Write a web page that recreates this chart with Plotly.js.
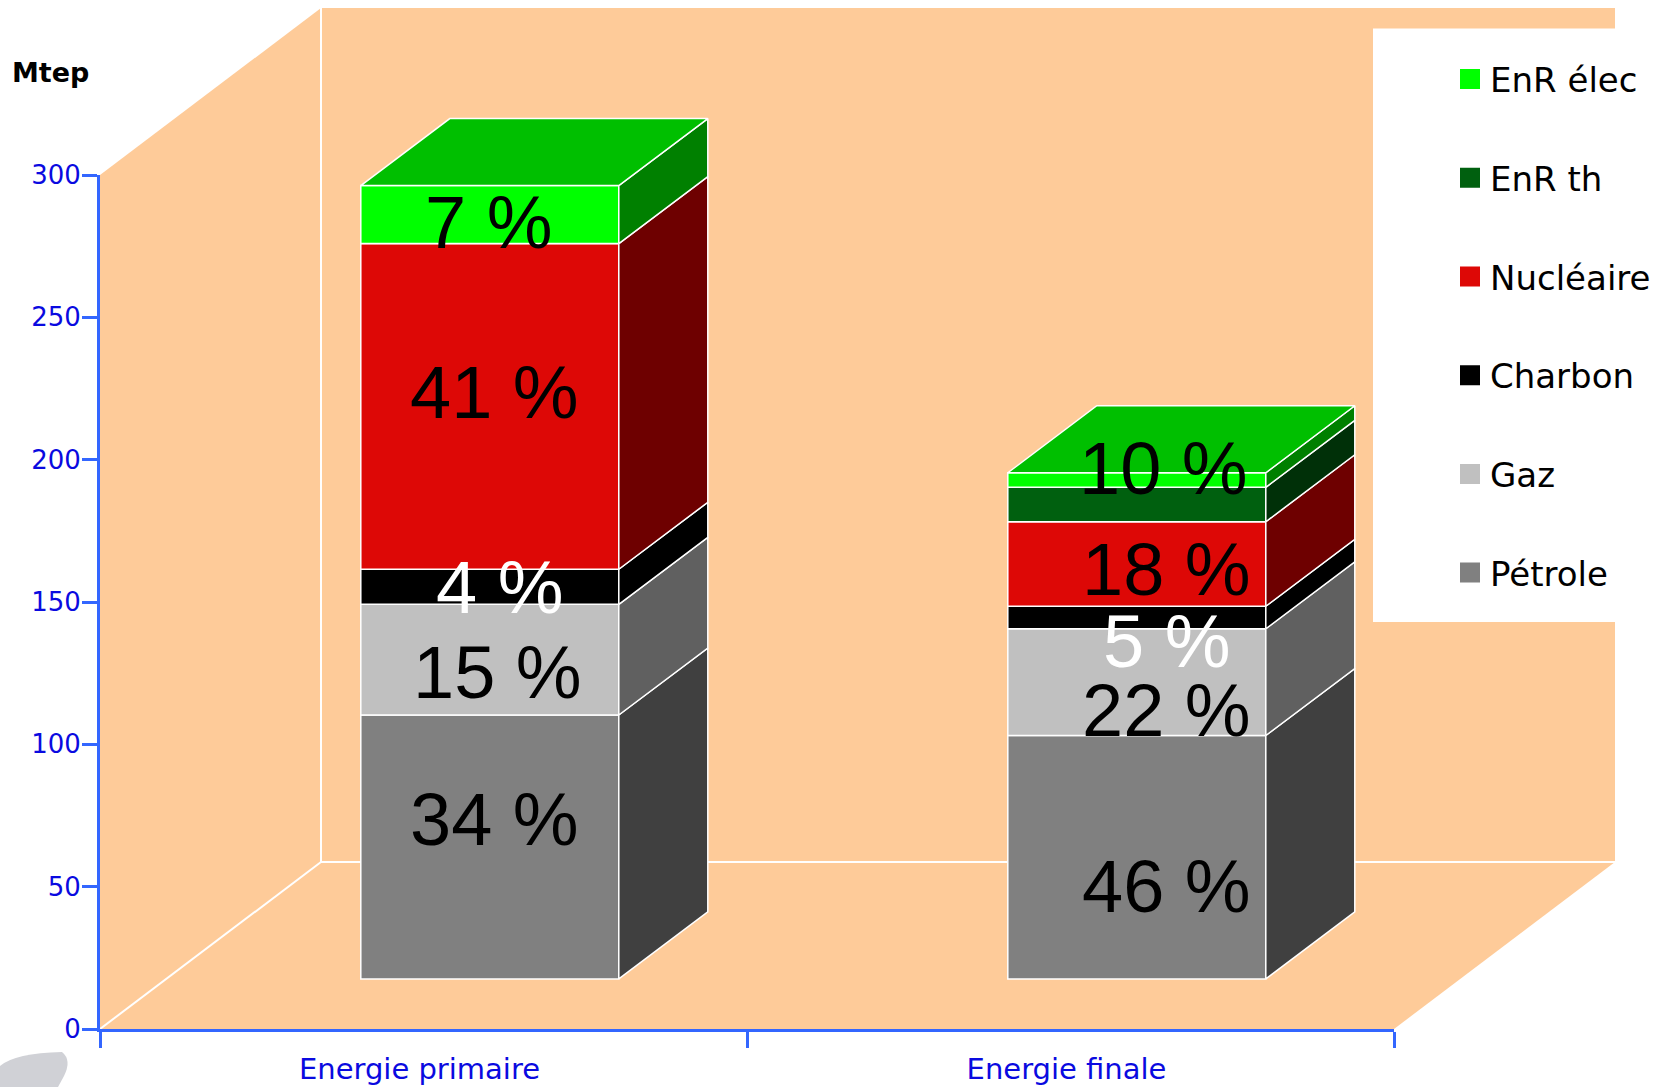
<!DOCTYPE html>
<html><head><meta charset="utf-8">
<script src="https://cdn.plot.ly/plotly-3.0.1.min.js"></script>
<style>html,body{margin:0;padding:0;background:#fff;} #chart{width:1659px;height:1087px;}</style>
</head><body><div id="chart"></div>
<script>
// ---------------- data ----------------
const categories = ['Energie primaire', 'Energie finale'];
const seriesNames = ['Pétrole', 'Gaz', 'Charbon', 'Nucléaire', 'EnR th', 'EnR élec'];
const petrole   = [92.7, 85.5];
const gaz       = [38.9, 37.5];
const charbon   = [12.3, 7.9];
const nucleaire = [114.4, 29.7];
const enrTh     = [0, 12.1];
const enrElec   = [20.4, 5.1];
const primaryLabels = ['34 %', '15 %', '4 %', '41 %', '', '7 %'];
const finalLabels   = ['46 %', '22 %', '5 %', '18 %', '', '10 %'];
const yTickVals = [0, 50, 100, 150, 200, 250, 300];
const yAxisTitle = 'Mtep';
const legendOrder = [5, 4, 3, 2, 1, 0]; // EnR élec on top ... Pétrole at bottom

// ---------------- styles ----------------
const frontColors = ['#808080', '#c0c0c0', '#000000', '#dd0806', '#00600f', '#00ff00'];
const sideColors  = ['#404040', '#606060', '#000000', '#6e0000', '#003008', '#008000'];
const topColors   = ['#606060', '#a0a0a0', '#000000', '#b00000', '#004a0c', '#00bf00'];
const labelColors = ['#000', '#000', '#fff', '#000', '#000', '#000'];
const labelShiftX = [[5, 8, 10, 5, 0, -1], [30, 30, 30, 29.5, 0, 26.5]];
const labelShiftY = [[27, -13, -1, 14, 0, -8], [-29.5, -28, -24, -5.5, 0, 11.7]];

// ---------------- geometry ----------------
const W = 1659, H = 1087, ML = 100, MB = 58;
const PW = W - ML, PH = H - MB;
const AX_W = 1294, AX_H = 854;
const PX = AX_W / 2, PY = AX_H / 300;
const WALL_DX = 221 / PX, WALL_DY = 167 / PY;
const FRONT = 0.3;
const FRONT_DX = FRONT * WALL_DX, FRONT_DY = FRONT * WALL_DY;
const BAR_W = 258 / PX;
const BAR_DX = 89 / PX, BAR_DY = 67 / PY;
const xMax = -0.5 + PW / PX, yMax = PH / PY;

const series = [petrole, gaz, charbon, nucleaire, enrTh, enrElec];
const labels = [primaryLabels, finalLabels];

// cumulative bases per bar
const bases = series.map(() => categories.map(() => 0));
categories.forEach((c, i) => {
  let acc = 0;
  series.forEach((s, k) => { bases[k][i] = acc; acc += s[i]; });
});

const traces = [];
// front faces (bars)
series.forEach((s, k) => {
  traces.push({
    type: 'bar', name: seriesNames[k], showlegend: false, hoverinfo: 'skip',
    x: categories.map((c, i) => i + FRONT_DX),
    y: s,
    base: categories.map((c, i) => bases[k][i] + FRONT_DY),
    width: BAR_W,
    marker: {color: frontColors[k], line: {color: '#ffffff', width: 1.5}},
    xaxis: 'x', yaxis: 'y'
  });
});
// side faces and top faces
categories.forEach((c, i) => {
  const xr = i + FRONT_DX + BAR_W / 2;
  const xl = i + FRONT_DX - BAR_W / 2;
  let topK = -1;
  series.forEach((s, k) => {
    if (s[i] <= 0) return;
    topK = k;
    const y0 = bases[k][i] + FRONT_DY, y1 = y0 + s[i];
    traces.push({
      type: 'scatter', mode: 'lines', fill: 'toself', showlegend: false, hoverinfo: 'skip',
      x: [xr, xr + BAR_DX, xr + BAR_DX, xr, xr],
      y: [y0, y0 + BAR_DY, y1 + BAR_DY, y1, y0],
      fillcolor: sideColors[k], line: {color: '#ffffff', width: 1.5},
      xaxis: 'x', yaxis: 'y'
    });
  });
  if (topK >= 0) {
    const yt = bases[topK][i] + series[topK][i] + FRONT_DY;
    traces.push({
      type: 'scatter', mode: 'lines', fill: 'toself', showlegend: false, hoverinfo: 'skip',
      x: [xl, xr, xr + BAR_DX, xl + BAR_DX, xl],
      y: [yt, yt, yt + BAR_DY, yt + BAR_DY, yt],
      fillcolor: topColors[topK], line: {color: '#ffffff', width: 1.5},
      xaxis: 'x', yaxis: 'y'
    });
  }
});
// legend entries
legendOrder.forEach((k, n) => {
  traces.push({
    type: 'scatter', mode: 'markers', name: seriesNames[k], legendgroup: 'g' + n,
    x: [null], y: [null], hoverinfo: 'skip',
    marker: {symbol: 'square', size: 16, color: frontColors[k], line: {color: frontColors[k], width: 4}},
    xaxis: 'x', yaxis: 'y'
  });
});
// axis carrier for visible axes
traces.push({
  type: 'scatter', mode: 'markers', x: categories, y: [null, null], showlegend: false,
  hoverinfo: 'skip', xaxis: 'x2', yaxis: 'y2'
});

// annotations: percentages
const annotations = [];
categories.forEach((c, i) => {
  series.forEach((s, k) => {
    const t = labels[i][k];
    if (!t) return;
    annotations.push({
      xref: 'x', yref: 'y', x: i + FRONT_DX, y: bases[k][i] + s[i] / 2 + FRONT_DY,
      text: t, showarrow: false, xanchor: 'center', yanchor: 'middle',
      xshift: labelShiftX[i][k], yshift: labelShiftY[i][k],
      font: {family: 'Liberation Sans, Arial, sans-serif', size: 74, color: labelColors[k]}
    });
  });
});
annotations.push({
  xref: 'paper', yref: 'paper', x: (10 - ML) / PW, y: (PH - 72) / PH,
  xanchor: 'left', yanchor: 'middle', showarrow: false,
  text: '<b>' + yAxisTitle + '</b>',
  font: {family: 'DejaVu Sans, sans-serif', size: 27, color: '#000'}
});

// shapes: walls / floor
const P = (x, y) => x + ',' + y;
const wallPath = 'M' + P(-0.5, 0) + ' L' + P(1.5, 0) + ' L' + P(1.5 + WALL_DX, WALL_DY) +
  ' L' + P(1.5 + WALL_DX, 300 + WALL_DY) + ' L' + P(-0.5 + WALL_DX, 300 + WALL_DY) +
  ' L' + P(-0.5, 300) + ' Z';
const px2paperX = px => (px - ML) / PW;
const px2paperY = py => (PH - py) / PH;
const shapes = [
  {type: 'path', xref: 'x', yref: 'y', path: wallPath, fillcolor: '#fecb99', line: {width: 0}, layer: 'below'},
  {type: 'line', xref: 'x', yref: 'y', x0: -0.5, y0: 0, x1: -0.5 + WALL_DX, y1: WALL_DY, line: {color: '#ffffff', width: 2}, layer: 'below'},
  {type: 'line', xref: 'x', yref: 'y', x0: -0.5 + WALL_DX, y0: WALL_DY, x1: -0.5 + WALL_DX, y1: 300 + WALL_DY, line: {color: '#ffffff', width: 2}, layer: 'below'},
  {type: 'line', xref: 'x', yref: 'y', x0: -0.5 + WALL_DX, y0: WALL_DY, x1: 1.5 + WALL_DX, y1: WALL_DY, line: {color: '#ffffff', width: 2}, layer: 'below'},
  // legend background
  {type: 'rect', xref: 'paper', yref: 'paper', x0: px2paperX(1373), x1: 1.0, y0: px2paperY(622), y1: px2paperY(28.5), fillcolor: '#ffffff', line: {width: 0}, layer: 'above'},
  // stray grey blob bottom-left
  {type: 'path', xref: 'paper', yref: 'paper',
   path: 'M' + px2paperX(0) + ',' + px2paperY(1087) + ' L' + px2paperX(0) + ',' + px2paperY(1066) +
         ' Q' + px2paperX(15) + ',' + px2paperY(1053) + ' ' + px2paperX(62) + ',' + px2paperY(1052) +
         ' Q' + px2paperX(72) + ',' + px2paperY(1060) + ' ' + px2paperX(64) + ',' + px2paperY(1076) +
         ' L' + px2paperX(58) + ',' + px2paperY(1087) + ' Z',
   fillcolor: '#d0d1d6', line: {width: 0}, layer: 'above'}
];

const axisBlue = '#3366ff', textBlue = '#0a0ae0';
const layout = {
  width: W, height: H,
  margin: {l: ML, r: 0, t: 0, b: MB, pad: 0},
  paper_bgcolor: '#ffffff', plot_bgcolor: 'rgba(0,0,0,0)',
  barmode: 'overlay', showlegend: true,
  xaxis: {domain: [0, 1], range: [-0.5, xMax], visible: false, fixedrange: true, anchor: 'y'},
  yaxis: {domain: [0, 1], range: [0, yMax], visible: false, fixedrange: true, anchor: 'x'},
  xaxis2: {domain: [0, AX_W / PW], anchor: 'y2', type: 'category', categoryorder: 'array', categoryarray: categories,
    range: [-0.5, 1.5], showline: true, linecolor: axisBlue, linewidth: 3,
    ticks: 'outside', tickson: 'boundaries', ticklen: 16, tickwidth: 3, tickcolor: axisBlue,
    ticklabelstandoff: 12, ticklabelshift: -4,
    showgrid: false, zeroline: false, fixedrange: true,
    tickfont: {family: 'DejaVu Sans, sans-serif', size: 29, color: textBlue}},
  yaxis2: {domain: [0, AX_H / PH], anchor: 'x2', range: [0, 300], tickvals: yTickVals,
    showline: true, linecolor: axisBlue, linewidth: 3,
    ticks: 'outside', ticklen: 15, tickwidth: 3, tickcolor: axisBlue,
    ticklabelstandoff: -4,
    showgrid: false, zeroline: false, fixedrange: true,
    tickfont: {family: 'DejaVu Sans, sans-serif', size: 26, color: textBlue}},
  legend: {x: px2paperX(1450), xanchor: 'left', y: px2paperY(50.5), yanchor: 'top',
    bgcolor: 'rgba(0,0,0,0)', borderwidth: 0, traceorder: 'grouped', tracegroupgap: 51.5,
    font: {family: 'DejaVu Sans, sans-serif', size: 34, color: '#000'}},
  shapes: shapes,
  annotations: annotations
};

Plotly.newPlot('chart', traces, layout, {staticPlot: true, displayModeBar: false});
</script>
</body></html>
